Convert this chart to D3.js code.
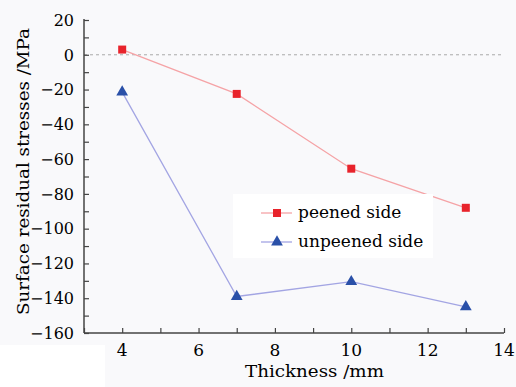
<!DOCTYPE html>
<html><head><meta charset="utf-8">
<script src="https://cdn.jsdelivr.net/npm/d3@7"></script>
<style>body{margin:0;background:#f9f9fb}svg{display:block}</style>
</head><body><svg id="c" width="516" height="387"></svg>
<script>
const thickness = [4, 7, 10, 13];
const peened = [3, -22.5, -65.5, -88];
const unpeened = [-21.5, -139, -130.5, -145];
const seriesNames = ["peened side", "unpeened side"];
const xTicks = [4, 6, 8, 10, 12, 14];
const yTicks = [20, 0, -20, -40, -60, -80, -100, -120, -140, -160];

const svg = d3.select("#c");
const font = "DejaVu Serif";
const L = 84, R = 504, T = 20, B = 333;
const x = d3.scaleLinear().domain([3, 14]).range([L, R]);
const y = d3.scaleLinear().domain([-160, 20]).range([B, T]);

svg.append("rect").attr("width", 516).attr("height", 387).attr("fill", "#f9f9fb");
svg.append("rect").attr("x", 0).attr("y", 345).attr("width", 105).attr("height", 42).attr("fill", "#ffffff");

// zero line
svg.append("line").attr("x1", L).attr("x2", R).attr("y1", y(0)).attr("y2", y(0))
  .attr("stroke", "#aaa").attr("stroke-width", 1).attr("stroke-dasharray", "3,3");

// axes
const axisColor = "#444";
const xAxis = svg.append("g").attr("transform", `translate(0,${B})`)
  .call(d3.axisBottom(x).tickValues(d3.range(3, 14.01, 1)).tickSize(-5).tickFormat(""));
const yAxis = svg.append("g").attr("transform", `translate(${L},0)`)
  .call(d3.axisLeft(y).tickValues(d3.range(-160, 20.01, 10)).tickSize(-5).tickFormat(""));
[xAxis, yAxis].forEach(g => {
  g.select(".domain").attr("stroke", axisColor).attr("stroke-width", 1.5);
  g.selectAll(".tick line").attr("stroke", axisColor).attr("stroke-width", 1.2);
});
yAxis.select(".domain").attr("d", `M0,${B}V${T - 1}`);
xAxis.select(".domain").attr("d", `M0,0H${R - L}`).attr("transform", `translate(${L},0)`);

// tick labels
svg.append("g").selectAll("text").data(xTicks).join("text")
  .attr("x", d => x(d)).attr("y", 356).attr("text-anchor", "middle")
  .attr("font-family", font).attr("font-size", 17).attr("fill", "#000")
  .text(d => d);
svg.append("g").selectAll("text").data(yTicks).join("text")
  .attr("x", 74).attr("y", d => y(d)).attr("dy", "0.36em").attr("text-anchor", "end")
  .attr("font-family", font).attr("font-size", 16).attr("fill", "#000")
  .text(d => d < 0 ? "\u2212" + Math.abs(d) : d);

// axis titles
svg.append("text").attr("x", 245).attr("y", 377)
  .attr("textLength", 139).attr("lengthAdjust", "spacingAndGlyphs")
  .attr("font-family", font).attr("font-size", 16).attr("fill", "#000").text("Thickness /mm");
svg.append("text").attr("transform", `translate(29,315) rotate(-90)`)
  .attr("textLength", 287).attr("lengthAdjust", "spacingAndGlyphs")
  .attr("font-family", font).attr("font-size", 16).attr("fill", "#000").text("Surface residual stresses /MPa");

// series
const colors = { pLine: "#f5a3a6", pMark: "#e8232b", uLine: "#a3a5e3", uMark: "#2a50a8" };
const line = d3.line().x((d, i) => x(thickness[i])).y(d => y(d));
svg.append("path").datum(peened).attr("d", line).attr("fill", "none").attr("stroke", colors.pLine).attr("stroke-width", 1.3);
svg.append("path").datum(unpeened).attr("d", line).attr("fill", "none").attr("stroke", colors.uLine).attr("stroke-width", 1.3);

const sq = d3.symbol().type(d3.symbolSquare).size(64);
const tri = d3.symbol().type(d3.symbolTriangle).size(60);
svg.append("g").selectAll("path").data(peened).join("path")
  .attr("transform", (d, i) => `translate(${x(thickness[i])},${y(d)})`).attr("d", sq).attr("fill", colors.pMark);
svg.append("g").selectAll("path").data(unpeened).join("path")
  .attr("transform", (d, i) => `translate(${x(thickness[i])},${y(d)})`).attr("d", tri).attr("fill", colors.uMark);

// legend
svg.append("rect").attr("x", 233).attr("y", 194).attr("width", 200).attr("height", 64).attr("fill", "#ffffff");
const leg = [{ n: seriesNames[0], lc: colors.pLine, mc: colors.pMark, s: sq, yy: 213 },
             { n: seriesNames[1], lc: colors.uLine, mc: colors.uMark, s: tri, yy: 242 }];
leg.forEach(o => {
  svg.append("line").attr("x1", 261).attr("x2", 292).attr("y1", o.yy).attr("y2", o.yy).attr("stroke", o.lc).attr("stroke-width", 1.3);
  svg.append("path").attr("transform", `translate(277,${o.yy})`).attr("d", o.s).attr("fill", o.mc);
  svg.append("text").attr("x", 298).attr("y", o.yy + 5).attr("font-family", font).attr("font-size", 17).attr("fill", "#000").text(o.n);
});
</script></body></html>
